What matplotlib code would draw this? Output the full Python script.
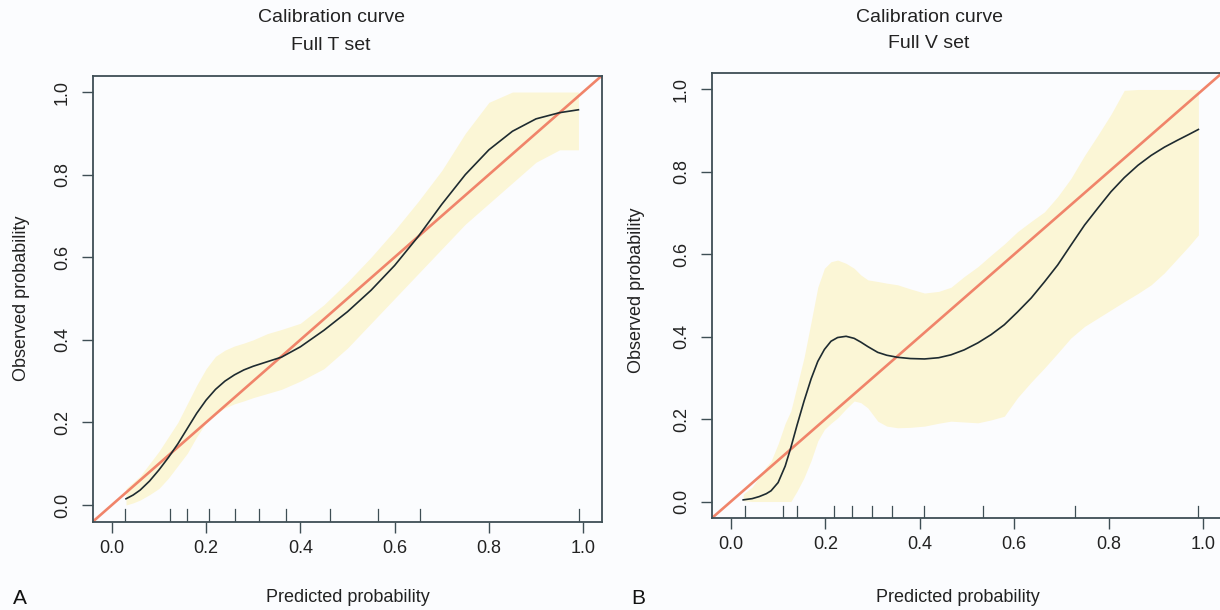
import matplotlib
matplotlib.use("Agg")
import matplotlib.pyplot as plt

plt.rcParams['font.family'] = ['Liberation Sans', 'DejaVu Sans']

# ---------------- data: panel A (Full T set) ----------------
a_x = [0.03, 0.045, 0.06, 0.08, 0.10, 0.12, 0.14, 0.16, 0.18, 0.20, 0.22, 0.24, 0.26, 0.28,
       0.30, 0.33, 0.36, 0.40, 0.45, 0.50, 0.55, 0.60, 0.65, 0.70, 0.75, 0.80, 0.85, 0.90,
       0.95, 0.99]
a_curve = [0.015, 0.024, 0.036, 0.058, 0.085, 0.115, 0.148, 0.185, 0.222, 0.254, 0.280, 0.300,
           0.315, 0.327, 0.336, 0.347, 0.358, 0.383, 0.423, 0.468, 0.520, 0.580, 0.650, 0.728,
           0.800, 0.860, 0.905, 0.935, 0.950, 0.957]
a_low = [0.0, 0.005, 0.012, 0.025, 0.04, 0.065, 0.095, 0.125, 0.165, 0.20, 0.22, 0.235,
         0.245, 0.252, 0.26, 0.27, 0.28, 0.30, 0.33, 0.38, 0.44, 0.50, 0.56, 0.62, 0.68,
         0.73, 0.78, 0.83, 0.86, 0.86]
a_high = [0.04, 0.055, 0.07, 0.10, 0.13, 0.165, 0.20, 0.245, 0.29, 0.33, 0.36, 0.375, 0.385,
          0.392, 0.40, 0.415, 0.425, 0.44, 0.485, 0.54, 0.60, 0.665, 0.735, 0.81, 0.90, 0.975,
          1.0, 1.0, 1.0, 1.0]
a_rug = [0.027, 0.123, 0.159, 0.206, 0.262, 0.312, 0.370, 0.462, 0.565, 0.654, 0.991]

# ---------------- data: panel B (Full V set) ----------------
b_x = [0.026, 0.045, 0.06, 0.075, 0.085, 0.10, 0.115, 0.127, 0.14, 0.155, 0.17, 0.184, 0.198,
       0.212, 0.226, 0.244, 0.261, 0.275, 0.29, 0.311, 0.33, 0.353, 0.38, 0.41, 0.44, 0.466,
       0.494, 0.523, 0.551, 0.579, 0.607, 0.636, 0.664, 0.692, 0.72, 0.749, 0.777, 0.805,
       0.833, 0.862, 0.89, 0.918, 0.946, 0.97, 0.99]
b_curve = [0.004, 0.007, 0.012, 0.019, 0.026, 0.046, 0.086, 0.131, 0.185, 0.244, 0.298, 0.340,
           0.369, 0.389, 0.398, 0.401, 0.396, 0.387, 0.376, 0.362, 0.355, 0.350, 0.347, 0.346,
           0.349, 0.356, 0.368, 0.385, 0.405, 0.429, 0.460, 0.494, 0.533, 0.574, 0.622, 0.671,
           0.712, 0.752, 0.786, 0.816, 0.840, 0.860, 0.877, 0.891, 0.903]
b_low = [0.002, 0.0, 0.0, 0.0, 0.0, 0.0, 0.0, 0.0, 0.025, 0.058, 0.10, 0.147, 0.175, 0.19,
         0.203, 0.225, 0.244, 0.24, 0.227, 0.195, 0.183, 0.179, 0.180, 0.183, 0.19, 0.195,
         0.193, 0.191, 0.198, 0.207, 0.252, 0.29, 0.324, 0.36, 0.397, 0.425, 0.445, 0.465,
         0.485, 0.505, 0.526, 0.555, 0.59, 0.62, 0.647]
b_high = [0.018, 0.035, 0.06, 0.085, 0.098, 0.14, 0.19, 0.22, 0.28, 0.35, 0.437, 0.52, 0.566,
          0.582, 0.586, 0.578, 0.566, 0.55, 0.538, 0.534, 0.530, 0.526, 0.516, 0.506, 0.510,
          0.52, 0.546, 0.57, 0.598, 0.625, 0.655, 0.68, 0.703, 0.74, 0.784, 0.84, 0.889, 0.94,
          0.998, 1.0, 1.0, 1.0, 1.0, 1.0, 1.0]
b_rug = [0.029, 0.111, 0.141, 0.218, 0.256, 0.299, 0.342, 0.409, 0.533, 0.728, 0.99]

ticks = [0.0, 0.2, 0.4, 0.6, 0.8, 1.0]
tick_labels = ["0.0", "0.2", "0.4", "0.6", "0.8", "1.0"]

BAND = "#FBF6D6"
DIAG = "#F0846A"
CURVE = "#1E2B30"
AXC = "#3E4E55"
BG = "#FBFCFE"

W, H = 1220, 610
fig = plt.figure(figsize=(12.2, 6.1), dpi=100, facecolor=BG)


def panel(rect, x, curve, low, high, rug):
    ax = fig.add_axes(rect)
    ax.set_facecolor(BG)
    ax.fill_between(x, low, high, color=BAND, lw=0, zorder=1)
    ax.plot([-0.1, 1.1], [-0.1, 1.1], color=DIAG, lw=1.9, zorder=2)
    ax.plot(x, curve, color=CURVE, lw=1.2, zorder=3, solid_joinstyle='round')
    for r in rug:
        ax.plot([r, r], [-0.04, -0.01], color=AXC, lw=0.9, zorder=3)
    ax.set_xlim(-0.04, 1.04)
    ax.set_ylim(-0.04, 1.04)
    ax.set_xticks(ticks)
    ax.set_xticklabels(tick_labels)
    ax.set_yticks(ticks)
    ax.set_yticklabels(tick_labels, rotation=90, va='center')
    ax.tick_params(axis='both', colors=AXC, labelcolor='#222222', labelsize=13,
                   length=8, width=1.0)
    ax.tick_params(axis='x', pad=5)
    ax.tick_params(axis='y', pad=8)
    for s in ax.spines.values():
        s.set_color(AXC)
        s.set_linewidth(1.3)
    return ax


# Panel A
axA = panel([93 / W, 1 - 521.5 / H, (602 - 93) / W, (521.5 - 75.5) / H],
            a_x, a_curve, a_low, a_high, a_rug)
# Panel B
axB = panel([712 / W, 1 - 518 / H, (1222 - 712) / W, (518 - 73) / H],
            b_x, b_curve, b_low, b_high, b_rug)

tc = '#222222'
fig.text(331 / W, 1 - 18 / H, "Calibration curve", ha='center', va='center', fontsize=14, color=tc)
fig.text(331 / W, 1 - 45 / H, "Full T set", ha='center', va='center', fontsize=14, color=tc)
fig.text(929 / W, 1 - 17 / H, "Calibration curve", ha='center', va='center', fontsize=14, color=tc)
fig.text(929 / W, 1 - 44 / H, "Full V set", ha='center', va='center', fontsize=14, color=tc)

fig.text(348 / W, 1 - 597 / H, "Predicted probability", ha='center', va='center', fontsize=13, color=tc)
fig.text(958 / W, 1 - 597 / H, "Predicted probability", ha='center', va='center', fontsize=13, color=tc)
fig.text(22 / W, 1 - 298 / H, "Observed probability", ha='center', va='center', rotation=90,
         fontsize=13, color=tc)
fig.text(637 / W, 1 - 290 / H, "Observed probability", ha='center', va='center', rotation=90,
         fontsize=13, color=tc)

fig.text(20 / W, 1 - 599 / H, "A", ha='center', va='center', fontsize=15, color='#111111')
fig.text(638 / W, 1 - 599 / H, "B", ha='center', va='center', fontsize=15, color='#111111')

fig.savefig("out.png", dpi=100, facecolor=BG)
